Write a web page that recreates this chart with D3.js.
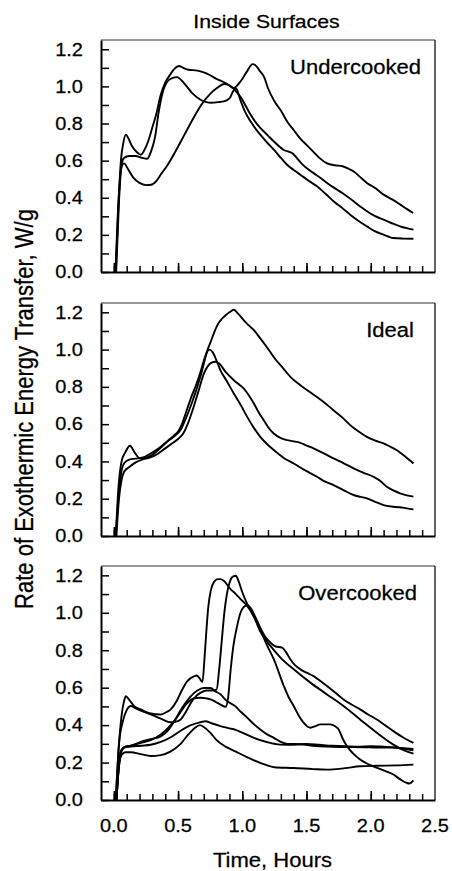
<!DOCTYPE html>
<html><head><meta charset="utf-8">
<script src="https://cdn.jsdelivr.net/npm/d3@7"></script>
<style>
html,body{margin:0;padding:0;background:#fff;}
svg{display:block;font-family:"Liberation Sans",Arial,Helvetica,sans-serif;}
svg text{stroke:#000;stroke-width:0.25px;}
</style>
</head><body>
<svg id="chart" width="452" height="871"></svg>
<script>
// ---------------- DATA ----------------
const title = "Inside Surfaces";
const panelNames = ["Undercooked", "Ideal", "Overcooked"];
const yLabel = "Rate of Exothermic Energy Transfer, W/g";
const xLabel = "Time, Hours";
const yTickLabels = [0, 0.2, 0.4, 0.6, 0.8, 1.0, 1.2];
const xTickLabels = [0, 0.5, 1.0, 1.5, 2.0, 2.5];

// Undercooked: [time (h), rate (W/g)]
const undercooked1 = [[0.012,0],[0.03,0.3],[0.05,0.52],[0.065,0.575],[0.08,0.585],[0.11,0.555],[0.15,0.51],[0.2,0.48],[0.25,0.468],[0.29,0.47],[0.33,0.49],[0.37,0.53],[0.42,0.578],[0.48,0.65],[0.55,0.74],[0.62,0.83],[0.68,0.9],[0.75,0.96],[0.8,0.99],[0.86,1.013],[0.9,1.005],[0.93,0.99],[0.96,1.005],[1.0,1.04],[1.04,1.085],[1.08,1.12],[1.1,1.115],[1.14,1.08],[1.17,1.05],[1.2,0.99],[1.25,0.92],[1.3,0.87],[1.35,0.81],[1.4,0.765],[1.45,0.72],[1.5,0.685],[1.55,0.65],[1.6,0.615],[1.66,0.585],[1.72,0.575],[1.78,0.57],[1.83,0.555],[1.87,0.54],[1.92,0.51],[1.97,0.48],[2.04,0.45],[2.1,0.417],[2.17,0.39],[2.23,0.363],[2.28,0.34],[2.33,0.318]];
const undercooked2 = [[0.015,0],[0.035,0.35],[0.055,0.6],[0.075,0.7],[0.093,0.74],[0.11,0.725],[0.14,0.68],[0.18,0.645],[0.21,0.632],[0.24,0.66],[0.27,0.71],[0.3,0.78],[0.33,0.85],[0.365,0.955],[0.4,1.02],[0.44,1.065],[0.48,1.1],[0.507,1.11],[0.54,1.1],[0.58,1.09],[0.65,1.085],[0.7,1.075],[0.75,1.06],[0.8,1.04],[0.85,1.025],[0.9,1.005],[0.93,0.99],[0.96,0.965],[0.99,0.94],[1.03,0.89],[1.064,0.848],[1.1,0.81],[1.14,0.776],[1.2,0.735],[1.245,0.704],[1.29,0.675],[1.32,0.659],[1.36,0.648],[1.39,0.64],[1.425,0.614],[1.46,0.585],[1.5,0.56],[1.56,0.53],[1.61,0.506],[1.66,0.48],[1.71,0.456],[1.79,0.42],[1.866,0.381],[1.92,0.352],[1.97,0.327],[2.03,0.302],[2.099,0.282],[2.16,0.264],[2.228,0.246],[2.28,0.236],[2.332,0.228]];
const undercooked3 = [[0.018,0],[0.04,0.38],[0.06,0.58],[0.08,0.615],[0.12,0.625],[0.17,0.625],[0.22,0.615],[0.26,0.61],[0.29,0.65],[0.32,0.725],[0.35,0.866],[0.39,0.99],[0.44,1.04],[0.49,1.05],[0.546,1.018],[0.61,0.964],[0.675,0.928],[0.72,0.915],[0.76,0.912],[0.81,0.915],[0.857,0.919],[0.9,0.935],[0.93,0.975],[0.95,0.99],[0.986,0.925],[1.02,0.865],[1.064,0.812],[1.1,0.775],[1.14,0.74],[1.19,0.7],[1.245,0.659],[1.3,0.615],[1.348,0.578],[1.4,0.55],[1.452,0.524],[1.52,0.49],[1.581,0.462],[1.65,0.42],[1.71,0.381],[1.78,0.343],[1.84,0.309],[1.9,0.278],[1.97,0.246],[2.03,0.22],[2.099,0.201],[2.14,0.19],[2.176,0.183],[2.25,0.18],[2.332,0.179]];

// Ideal
const ideal1 = [[0.015,0],[0.035,0.2],[0.055,0.33],[0.08,0.39],[0.12,0.41],[0.17,0.415],[0.22,0.42],[0.28,0.44],[0.35,0.47],[0.42,0.51],[0.48,0.54],[0.52,0.57],[0.56,0.63],[0.6,0.7],[0.64,0.78],[0.68,0.87],[0.71,0.95],[0.73,1.0],[0.753,1.04],[0.78,1.09],[0.805,1.13],[0.84,1.165],[0.87,1.184],[0.9,1.2],[0.934,1.214],[0.97,1.19],[1.012,1.157],[1.05,1.13],[1.09,1.104],[1.14,1.06],[1.19,1.014],[1.25,0.955],[1.32,0.898],[1.38,0.85],[1.452,0.809],[1.52,0.775],[1.581,0.746],[1.65,0.71],[1.71,0.675],[1.78,0.635],[1.84,0.595],[1.9,0.563],[1.97,0.532],[2.03,0.513],[2.099,0.497],[2.15,0.48],[2.2,0.461],[2.27,0.425],[2.332,0.389]];
const ideal2 = [[0.015,0],[0.035,0.25],[0.06,0.4],[0.09,0.45],[0.125,0.484],[0.16,0.45],[0.2,0.418],[0.25,0.42],[0.3,0.435],[0.36,0.47],[0.42,0.51],[0.47,0.54],[0.5,0.56],[0.53,0.6],[0.56,0.66],[0.6,0.74],[0.64,0.81],[0.67,0.87],[0.7,0.94],[0.72,0.98],[0.745,1.0],[0.77,0.985],[0.8,0.94],[0.83,0.889],[0.88,0.83],[0.934,0.764],[0.99,0.7],[1.038,0.639],[1.09,0.58],[1.14,0.532],[1.19,0.495],[1.245,0.461],[1.32,0.42],[1.4,0.389],[1.49,0.352],[1.581,0.318],[1.65,0.29],[1.71,0.273],[1.79,0.245],[1.866,0.22],[1.92,0.21],[1.97,0.202],[2.03,0.185],[2.099,0.166],[2.16,0.158],[2.228,0.154],[2.28,0.148],[2.332,0.143]];
const ideal3 = [[0.02,0],[0.04,0.2],[0.06,0.3],[0.08,0.345],[0.12,0.37],[0.17,0.395],[0.22,0.41],[0.28,0.42],[0.34,0.44],[0.4,0.47],[0.46,0.5],[0.5,0.52],[0.54,0.55],[0.58,0.61],[0.62,0.69],[0.66,0.78],[0.7,0.87],[0.73,0.91],[0.76,0.93],[0.79,0.935],[0.82,0.925],[0.87,0.88],[0.934,0.836],[0.97,0.815],[1.012,0.791],[1.05,0.755],[1.09,0.711],[1.13,0.66],[1.167,0.621],[1.2,0.585],[1.245,0.55],[1.3,0.525],[1.348,0.514],[1.4,0.508],[1.452,0.5],[1.5,0.485],[1.555,0.47],[1.63,0.445],[1.71,0.416],[1.79,0.39],[1.866,0.363],[1.94,0.34],[2.02,0.318],[2.07,0.298],[2.125,0.264],[2.18,0.243],[2.228,0.229],[2.28,0.218],[2.332,0.211]];

// Overcooked
const overcooked1 = [[0.015,0],[0.035,0.25],[0.06,0.45],[0.08,0.53],[0.093,0.555],[0.12,0.535],[0.16,0.5],[0.21,0.484],[0.287,0.462],[0.365,0.457],[0.41,0.47],[0.443,0.484],[0.49,0.53],[0.52,0.573],[0.572,0.635],[0.623,0.66],[0.645,0.665],[0.665,0.652],[0.69,0.63],[0.705,0.75],[0.72,0.9],[0.735,1.03],[0.755,1.12],[0.78,1.165],[0.81,1.18],[0.83,1.18],[0.857,1.17],[0.908,1.127],[0.95,1.1],[0.986,1.073],[1.038,1.037],[1.09,0.98],[1.14,0.9],[1.219,0.823],[1.297,0.761],[1.4,0.698],[1.53,0.627],[1.659,0.564],[1.788,0.502],[1.917,0.43],[2.047,0.359],[2.176,0.296],[2.26,0.265],[2.332,0.248]];
const overcooked2 = [[0.015,0],[0.04,0.3],[0.07,0.42],[0.1,0.48],[0.132,0.502],[0.17,0.49],[0.21,0.478],[0.287,0.457],[0.365,0.435],[0.443,0.415],[0.48,0.418],[0.52,0.43],[0.56,0.47],[0.6,0.52],[0.64,0.555],[0.68,0.575],[0.72,0.585],[0.76,0.585],[0.8,0.59],[0.82,0.7],[0.84,0.85],[0.86,1.0],[0.88,1.1],[0.9,1.16],[0.93,1.195],[0.95,1.198],[0.97,1.17],[1.0,1.11],[1.04,1.045],[1.09,0.98],[1.14,0.912],[1.19,0.83],[1.245,0.752],[1.323,0.609],[1.36,0.55],[1.4,0.502],[1.44,0.45],[1.478,0.412],[1.53,0.386],[1.57,0.395],[1.607,0.404],[1.685,0.404],[1.72,0.395],[1.75,0.377],[1.78,0.33],[1.814,0.288],[1.86,0.25],[1.917,0.216],[1.97,0.195],[2.02,0.18],[2.1,0.158],[2.176,0.136],[2.23,0.11],[2.28,0.091],[2.3,0.088],[2.332,0.105]];
const overcooked3 = [[0.02,0],[0.04,0.18],[0.06,0.26],[0.09,0.285],[0.132,0.29],[0.21,0.305],[0.287,0.32],[0.365,0.35],[0.443,0.4],[0.52,0.47],[0.56,0.51],[0.6,0.535],[0.64,0.545],[0.675,0.546],[0.72,0.543],[0.753,0.538],[0.79,0.525],[0.83,0.51],[0.87,0.498],[0.89,0.55],[0.91,0.7],[0.93,0.82],[0.96,0.93],[0.986,1.0],[1.01,1.03],[1.038,1.04],[1.07,1.02],[1.1,0.98],[1.14,0.92],[1.18,0.87],[1.219,0.841],[1.26,0.82],[1.31,0.814],[1.34,0.79],[1.374,0.752],[1.41,0.72],[1.452,0.698],[1.5,0.68],[1.555,0.662],[1.6,0.64],[1.659,0.609],[1.72,0.575],[1.788,0.537],[1.85,0.51],[1.917,0.484],[1.98,0.457],[2.047,0.43],[2.11,0.4],[2.176,0.368],[2.25,0.335],[2.332,0.305]];
const overcooked4 = [[0.02,0],[0.04,0.2],[0.06,0.27],[0.09,0.285],[0.132,0.29],[0.21,0.31],[0.287,0.325],[0.365,0.34],[0.42,0.37],[0.47,0.42],[0.52,0.48],[0.56,0.52],[0.6,0.555],[0.65,0.585],[0.7,0.598],[0.753,0.598],[0.79,0.58],[0.83,0.565],[0.87,0.535],[0.947,0.5],[0.99,0.47],[1.038,0.44],[1.09,0.405],[1.14,0.377],[1.19,0.352],[1.245,0.332],[1.3,0.31],[1.35,0.3],[1.45,0.298],[1.55,0.29],[1.65,0.285],[1.75,0.283],[1.85,0.283],[1.95,0.282],[2.05,0.28],[2.15,0.28],[2.25,0.275],[2.332,0.265]];
const overcooked5 = [[0.02,0],[0.04,0.2],[0.055,0.26],[0.08,0.28],[0.132,0.285],[0.21,0.29],[0.287,0.295],[0.365,0.31],[0.443,0.335],[0.52,0.37],[0.6,0.4],[0.67,0.415],[0.714,0.421],[0.76,0.41],[0.83,0.395],[0.9,0.383],[0.947,0.375],[1.0,0.36],[1.09,0.332],[1.19,0.31],[1.296,0.296],[1.4,0.295],[1.5,0.3],[1.6,0.295],[1.7,0.29],[1.8,0.288],[1.9,0.285],[2.0,0.288],[2.1,0.285],[2.2,0.28],[2.332,0.272]];
const overcooked6 = [[0.02,0],[0.04,0.18],[0.06,0.24],[0.09,0.255],[0.132,0.255],[0.21,0.245],[0.287,0.235],[0.365,0.24],[0.443,0.26],[0.52,0.3],[0.58,0.35],[0.63,0.385],[0.67,0.4],[0.7,0.39],[0.75,0.36],[0.8,0.32],[0.87,0.285],[0.95,0.258],[1.04,0.228],[1.14,0.198],[1.25,0.175],[1.4,0.171],[1.55,0.165],[1.659,0.162],[1.8,0.17],[1.917,0.18],[2.05,0.183],[2.2,0.185],[2.332,0.189]];

const panelSeries = [
  [undercooked1, undercooked2, undercooked3],
  [ideal1, ideal2, ideal3],
  [overcooked1, overcooked2, overcooked3, overcooked4, overcooked5, overcooked6]
];

// ---------------- LAYOUT ----------------
const SX = 1.13;               // horizontal stretch of the original lettering
const left = 101, right = 435;
const panelTops = [40, 303, 566];
const panelBottoms = [272, 536, 800];
const nameRight = [421, 414, 417];
const tickFont = 17.7, nameFont = 19.5;

const svg = d3.select("#chart");
const x = d3.scaleLinear().domain([-0.1, 2.5]).range([left, right]);

function sText(g, px, py, str, size, anchor) {
  return g.append("text")
    .attr("transform", `translate(${px},${py}) scale(${SX},1)`)
    .attr("text-anchor", anchor)
    .style("font-size", size + "px")
    .attr("fill", "#000")
    .text(str);
}

// title
sText(svg, 266.5, 28, title, 18.8, "middle");

const fmt = d3.format(".1f");
const minorX = d3.range(0, 24.5, 1).map(d => d / 10);
const majorX = xTickLabels.filter(d => d < 2.45);
const minorY = d3.range(0, 12.5, 1).map(d => d / 10);

panelSeries.forEach((series, i) => {
  const top = panelTops[i], bottom = panelBottoms[i];
  const y = d3.scaleLinear().domain([0, 1.25]).range([bottom, top]);
  const g = svg.append("g");

  // top & right frame (thin)
  g.append("line").attr("x1", left).attr("x2", right).attr("y1", top).attr("y2", top)
    .attr("stroke", "#333").attr("stroke-width", 1.1);
  g.append("line").attr("x1", right).attr("x2", right).attr("y1", top).attr("y2", bottom)
    .attr("stroke", "#111").attr("stroke-width", 1.3);

  // left axis ticks (inward)
  const ya = g.append("g").attr("transform", `translate(${left},0)`)
    .call(d3.axisLeft(y).tickValues(minorY).tickSize(-8).tickSizeOuter(0).tickFormat(""));
  ya.select(".domain").attr("stroke", "#000").attr("stroke-width", 2);
  ya.selectAll(".tick line").attr("stroke", "#000").attr("stroke-width", 1.5);

  // bottom axis ticks (inward): minor + major
  const xa = g.append("g").attr("transform", `translate(0,${bottom})`)
    .call(d3.axisBottom(x).tickValues(minorX).tickSize(-6).tickSizeOuter(0).tickFormat(""));
  xa.select(".domain").attr("stroke", "#000").attr("stroke-width", 2);
  xa.selectAll(".tick line").attr("stroke", "#000").attr("stroke-width", 1.5);
  const xm = g.append("g").attr("transform", `translate(0,${bottom})`)
    .call(d3.axisBottom(x).tickValues(majorX).tickSize(-9).tickSizeOuter(0).tickFormat(""));
  xm.select(".domain").remove();
  xm.selectAll(".tick line").attr("stroke", "#000").attr("stroke-width", 1.6);

  // y tick labels
  yTickLabels.forEach(v => sText(g, 83, y(v) + 6.3, fmt(v), tickFont, "end"));

  // panel name
  sText(g, nameRight[i], top + 34, panelNames[i], nameFont, "end");

  // curves
  const line = d3.line().x(d => x(d[0])).y(d => y(d[1])).curve(d3.curveMonotoneX);
  g.selectAll("path.curve").data(series).enter().append("path")
    .attr("class", "curve")
    .attr("d", line)
    .attr("fill", "none")
    .attr("stroke", "#000")
    .attr("stroke-width", 1.9)
    .attr("stroke-linejoin", "round");
});

// x tick labels (bottom panel only)
xTickLabels.forEach(v => sText(svg, x(v), 831.5, fmt(v), tickFont, "middle"));

// x label
sText(svg, 272.5, 867, xLabel, 19.5, "middle");

// y label (rotated)
svg.append("text")
  .attr("transform", `translate(32.5,409) scale(${SX},1) rotate(-90)`)
  .attr("text-anchor", "middle")
  .style("font-size", "22px")
  .text(yLabel);
</script>
</body></html>
